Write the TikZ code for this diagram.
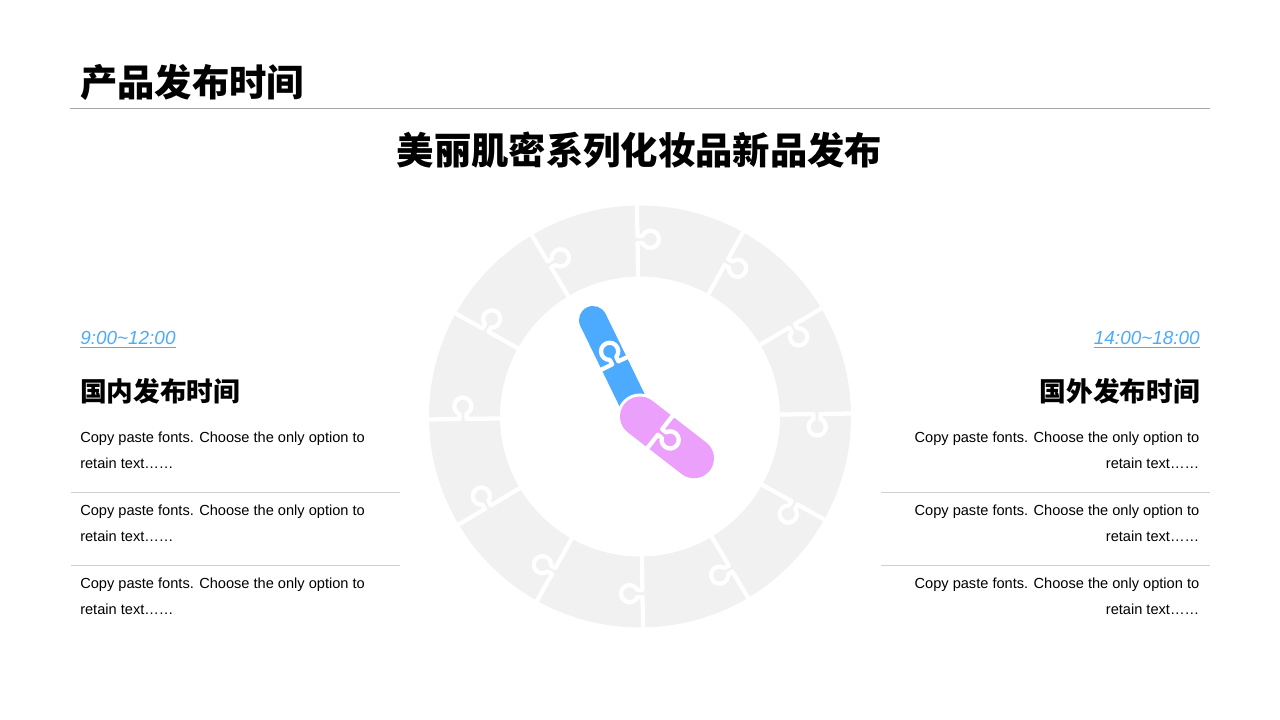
\documentclass[tikz,border=0pt]{standalone}
\usepackage{fontspec}
\setmainfont{Liberation Sans}
\newfontfamily\cjk{Noto Sans CJK SC}
\definecolor{ringgray}{HTML}{F1F1F1}
\definecolor{handblue}{HTML}{4DABFF}
\definecolor{handpink}{HTML}{EBA1FB}
\definecolor{titlerule}{HTML}{A6A6A6}
\definecolor{listrule}{HTML}{D0D0D0}
\def\puzzlecut(#1)(#2:#3:#4){\draw[cutline,shift={(#1)},rotate=#2,shift={(#3,0)}] (#4,0) -- (3.5,0) -- (3.5,-5) arc (66:-246:8.6) -- (-3.5,0) -- (-#4,0);}
\tikzset{
	cutline/.style={draw=white,line width=3.2pt,line join=round},
	listrule/.style={draw=listrule,line width=0.6pt},
	bigtitle/.style={inner sep=0pt,font=\cjk\bfseries\fontsize{28}{34}\selectfont},
	subhead/.style={inner sep=0pt,font=\cjk\bfseries\fontsize{20}{24}\selectfont},
	timelabel/.style={inner sep=0pt,text=handblue,font=\itshape\fontsize{14.2}{18}\selectfont},
	bodyleft/.style={inner sep=0pt,anchor=north west,align=left,font=\fontsize{10.95}{19.5}\selectfont},
	bodyright/.style={inner sep=0pt,anchor=north east,align=right,font=\fontsize{10.95}{19.5}\selectfont}
}

\begin{document}
\begin{tikzpicture}[x=0.75pt,y=0.75pt]
	%%%%% PAGE %%%%%
	\useasboundingbox (0, 0) rectangle (1280, 720);
	\fill[white] (0, 0) rectangle (1280, 720);
	
	\node[bigtitle,anchor=base west] (title) at (80, 623) {产品发布时间};
	\draw[draw=titlerule,line width=0.7pt] (70, 612) -- (1210, 612);
	\node[bigtitle,anchor=base] (subtitle) at (639.5, 555) {美丽肌密系列化妆品新品发布};
	
	%%%%% RING %%%%%
	\fill[ringgray,even odd rule] (640, 303.5) circle (211) (640, 303.5) circle (140);
	
	\puzzlecut(640, 303.5)(90.8:177:39);
	\puzzlecut(640, 303.5)(60.8:177:39);
	\puzzlecut(640, 303.5)(30.8:177:39);
	\puzzlecut(640, 303.5)(0.8:177:39);
	\puzzlecut(640, 303.5)(-29.2:177:39);
	\puzzlecut(640, 303.5)(-59.2:177:39);
	\puzzlecut(640, 303.5)(-89.2:177:39);
	\puzzlecut(640, 303.5)(-119.2:177:39);
	\puzzlecut(640, 303.5)(-149.2:177:39);
	\puzzlecut(640, 303.5)(-179.2:177:39);
	\puzzlecut(640, 303.5)(150.8:177:39);
	\puzzlecut(640, 303.5)(120.8:177:39);
	
	%%%%% HANDS %%%%%
	\draw[handblue,line width=21pt,line cap=round] (640, 303.5) -- (593, 400);
	\puzzlecut(613, 356)(206:-2.5:24);
	\fill[white] (640, 303.5) circle (23);
	\draw[handpink,line width=30pt,line cap=round] (640, 303.5) -- (694, 261.7);
	\puzzlecut(660, 288)(52:0:24);
	
	%%%%% LEFT %%%%%
	\node[timelabel,anchor=base west] (timeleft) at (80, 375) {\underline{9:00\textasciitilde12:00}};
	\node[subhead,anchor=base west] (headleft) at (80, 318) {国内发布时间};
	\node[bodyleft] (bodyleftA) at (80, 288) {Copy paste fonts. Choose the only option to\\retain text……};
	\draw[listrule] (71, 228) -- (400, 228);
	\node[bodyleft] (bodyleftB) at (80, 215) {Copy paste fonts. Choose the only option to\\retain text……};
	\draw[listrule] (71, 155) -- (400, 155);
	\node[bodyleft] (bodyleftC) at (80, 142) {Copy paste fonts. Choose the only option to\\retain text……};
	
	%%%%% RIGHT %%%%%
	\node[timelabel,anchor=base east] (timeright) at (1200, 375) {\underline{14:00\textasciitilde18:00}};
	\node[subhead,anchor=base east] (headright) at (1200, 318) {国外发布时间};
	\node[bodyright] (bodyrightA) at (1199.5, 288) {Copy paste fonts. Choose the only option to\\retain text……};
	\draw[listrule] (881, 228) -- (1210, 228);
	\node[bodyright] (bodyrightB) at (1199.5, 215) {Copy paste fonts. Choose the only option to\\retain text……};
	\draw[listrule] (881, 155) -- (1210, 155);
	\node[bodyright] (bodyrightC) at (1199.5, 142) {Copy paste fonts. Choose the only option to\\retain text……};
\end{tikzpicture}
\end{document}
